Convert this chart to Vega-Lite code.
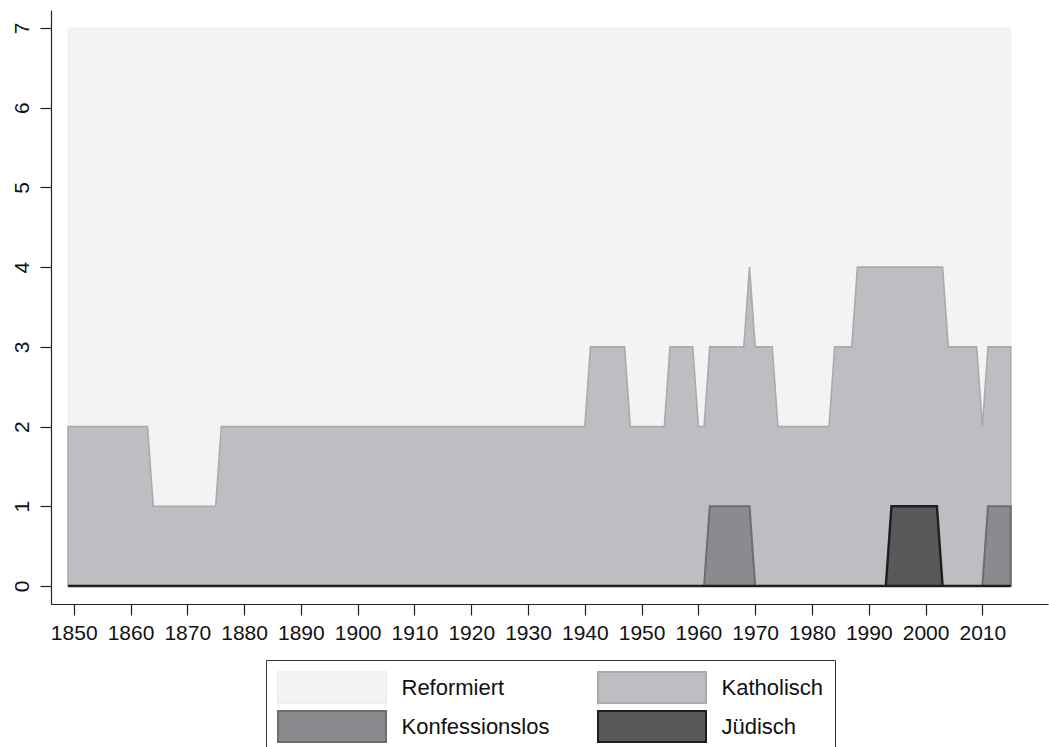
{
  "$schema": "https://vega.github.io/schema/vega-lite/v6.json",
  "width": 997,
  "height": 594,
  "autosize": {"type": "none"},
  "padding": {"left": 51, "top": 10, "right": 1, "bottom": 143},
  "background": "white",
  "config": {
    "view": {"stroke": null},
    "axis": {
      "grid": false,
      "domainColor": "#222222",
      "domainWidth": 1.2,
      "tickColor": "#222222",
      "tickWidth": 1.2,
      "tickSize": 11,
      "labelFont": "Liberation Sans",
      "labelFontSize": 21,
      "labelColor": "#111111",
      "title": null
    },
    "legend": {
      "labelFont": "Liberation Sans",
      "labelFontSize": 22,
      "labelColor": "#111111"
    }
  },
  "data": {
    "values": [
      {"Jahr":1849,"Reformiert":7,"Katholisch":2,"Konfessionslos":0,"Jüdisch":0},
      {"Jahr":1850,"Reformiert":7,"Katholisch":2,"Konfessionslos":0,"Jüdisch":0},
      {"Jahr":1851,"Reformiert":7,"Katholisch":2,"Konfessionslos":0,"Jüdisch":0},
      {"Jahr":1852,"Reformiert":7,"Katholisch":2,"Konfessionslos":0,"Jüdisch":0},
      {"Jahr":1853,"Reformiert":7,"Katholisch":2,"Konfessionslos":0,"Jüdisch":0},
      {"Jahr":1854,"Reformiert":7,"Katholisch":2,"Konfessionslos":0,"Jüdisch":0},
      {"Jahr":1855,"Reformiert":7,"Katholisch":2,"Konfessionslos":0,"Jüdisch":0},
      {"Jahr":1856,"Reformiert":7,"Katholisch":2,"Konfessionslos":0,"Jüdisch":0},
      {"Jahr":1857,"Reformiert":7,"Katholisch":2,"Konfessionslos":0,"Jüdisch":0},
      {"Jahr":1858,"Reformiert":7,"Katholisch":2,"Konfessionslos":0,"Jüdisch":0},
      {"Jahr":1859,"Reformiert":7,"Katholisch":2,"Konfessionslos":0,"Jüdisch":0},
      {"Jahr":1860,"Reformiert":7,"Katholisch":2,"Konfessionslos":0,"Jüdisch":0},
      {"Jahr":1861,"Reformiert":7,"Katholisch":2,"Konfessionslos":0,"Jüdisch":0},
      {"Jahr":1862,"Reformiert":7,"Katholisch":2,"Konfessionslos":0,"Jüdisch":0},
      {"Jahr":1863,"Reformiert":7,"Katholisch":2,"Konfessionslos":0,"Jüdisch":0},
      {"Jahr":1864,"Reformiert":7,"Katholisch":1,"Konfessionslos":0,"Jüdisch":0},
      {"Jahr":1865,"Reformiert":7,"Katholisch":1,"Konfessionslos":0,"Jüdisch":0},
      {"Jahr":1866,"Reformiert":7,"Katholisch":1,"Konfessionslos":0,"Jüdisch":0},
      {"Jahr":1867,"Reformiert":7,"Katholisch":1,"Konfessionslos":0,"Jüdisch":0},
      {"Jahr":1868,"Reformiert":7,"Katholisch":1,"Konfessionslos":0,"Jüdisch":0},
      {"Jahr":1869,"Reformiert":7,"Katholisch":1,"Konfessionslos":0,"Jüdisch":0},
      {"Jahr":1870,"Reformiert":7,"Katholisch":1,"Konfessionslos":0,"Jüdisch":0},
      {"Jahr":1871,"Reformiert":7,"Katholisch":1,"Konfessionslos":0,"Jüdisch":0},
      {"Jahr":1872,"Reformiert":7,"Katholisch":1,"Konfessionslos":0,"Jüdisch":0},
      {"Jahr":1873,"Reformiert":7,"Katholisch":1,"Konfessionslos":0,"Jüdisch":0},
      {"Jahr":1874,"Reformiert":7,"Katholisch":1,"Konfessionslos":0,"Jüdisch":0},
      {"Jahr":1875,"Reformiert":7,"Katholisch":1,"Konfessionslos":0,"Jüdisch":0},
      {"Jahr":1876,"Reformiert":7,"Katholisch":2,"Konfessionslos":0,"Jüdisch":0},
      {"Jahr":1877,"Reformiert":7,"Katholisch":2,"Konfessionslos":0,"Jüdisch":0},
      {"Jahr":1878,"Reformiert":7,"Katholisch":2,"Konfessionslos":0,"Jüdisch":0},
      {"Jahr":1879,"Reformiert":7,"Katholisch":2,"Konfessionslos":0,"Jüdisch":0},
      {"Jahr":1880,"Reformiert":7,"Katholisch":2,"Konfessionslos":0,"Jüdisch":0},
      {"Jahr":1881,"Reformiert":7,"Katholisch":2,"Konfessionslos":0,"Jüdisch":0},
      {"Jahr":1882,"Reformiert":7,"Katholisch":2,"Konfessionslos":0,"Jüdisch":0},
      {"Jahr":1883,"Reformiert":7,"Katholisch":2,"Konfessionslos":0,"Jüdisch":0},
      {"Jahr":1884,"Reformiert":7,"Katholisch":2,"Konfessionslos":0,"Jüdisch":0},
      {"Jahr":1885,"Reformiert":7,"Katholisch":2,"Konfessionslos":0,"Jüdisch":0},
      {"Jahr":1886,"Reformiert":7,"Katholisch":2,"Konfessionslos":0,"Jüdisch":0},
      {"Jahr":1887,"Reformiert":7,"Katholisch":2,"Konfessionslos":0,"Jüdisch":0},
      {"Jahr":1888,"Reformiert":7,"Katholisch":2,"Konfessionslos":0,"Jüdisch":0},
      {"Jahr":1889,"Reformiert":7,"Katholisch":2,"Konfessionslos":0,"Jüdisch":0},
      {"Jahr":1890,"Reformiert":7,"Katholisch":2,"Konfessionslos":0,"Jüdisch":0},
      {"Jahr":1891,"Reformiert":7,"Katholisch":2,"Konfessionslos":0,"Jüdisch":0},
      {"Jahr":1892,"Reformiert":7,"Katholisch":2,"Konfessionslos":0,"Jüdisch":0},
      {"Jahr":1893,"Reformiert":7,"Katholisch":2,"Konfessionslos":0,"Jüdisch":0},
      {"Jahr":1894,"Reformiert":7,"Katholisch":2,"Konfessionslos":0,"Jüdisch":0},
      {"Jahr":1895,"Reformiert":7,"Katholisch":2,"Konfessionslos":0,"Jüdisch":0},
      {"Jahr":1896,"Reformiert":7,"Katholisch":2,"Konfessionslos":0,"Jüdisch":0},
      {"Jahr":1897,"Reformiert":7,"Katholisch":2,"Konfessionslos":0,"Jüdisch":0},
      {"Jahr":1898,"Reformiert":7,"Katholisch":2,"Konfessionslos":0,"Jüdisch":0},
      {"Jahr":1899,"Reformiert":7,"Katholisch":2,"Konfessionslos":0,"Jüdisch":0},
      {"Jahr":1900,"Reformiert":7,"Katholisch":2,"Konfessionslos":0,"Jüdisch":0},
      {"Jahr":1901,"Reformiert":7,"Katholisch":2,"Konfessionslos":0,"Jüdisch":0},
      {"Jahr":1902,"Reformiert":7,"Katholisch":2,"Konfessionslos":0,"Jüdisch":0},
      {"Jahr":1903,"Reformiert":7,"Katholisch":2,"Konfessionslos":0,"Jüdisch":0},
      {"Jahr":1904,"Reformiert":7,"Katholisch":2,"Konfessionslos":0,"Jüdisch":0},
      {"Jahr":1905,"Reformiert":7,"Katholisch":2,"Konfessionslos":0,"Jüdisch":0},
      {"Jahr":1906,"Reformiert":7,"Katholisch":2,"Konfessionslos":0,"Jüdisch":0},
      {"Jahr":1907,"Reformiert":7,"Katholisch":2,"Konfessionslos":0,"Jüdisch":0},
      {"Jahr":1908,"Reformiert":7,"Katholisch":2,"Konfessionslos":0,"Jüdisch":0},
      {"Jahr":1909,"Reformiert":7,"Katholisch":2,"Konfessionslos":0,"Jüdisch":0},
      {"Jahr":1910,"Reformiert":7,"Katholisch":2,"Konfessionslos":0,"Jüdisch":0},
      {"Jahr":1911,"Reformiert":7,"Katholisch":2,"Konfessionslos":0,"Jüdisch":0},
      {"Jahr":1912,"Reformiert":7,"Katholisch":2,"Konfessionslos":0,"Jüdisch":0},
      {"Jahr":1913,"Reformiert":7,"Katholisch":2,"Konfessionslos":0,"Jüdisch":0},
      {"Jahr":1914,"Reformiert":7,"Katholisch":2,"Konfessionslos":0,"Jüdisch":0},
      {"Jahr":1915,"Reformiert":7,"Katholisch":2,"Konfessionslos":0,"Jüdisch":0},
      {"Jahr":1916,"Reformiert":7,"Katholisch":2,"Konfessionslos":0,"Jüdisch":0},
      {"Jahr":1917,"Reformiert":7,"Katholisch":2,"Konfessionslos":0,"Jüdisch":0},
      {"Jahr":1918,"Reformiert":7,"Katholisch":2,"Konfessionslos":0,"Jüdisch":0},
      {"Jahr":1919,"Reformiert":7,"Katholisch":2,"Konfessionslos":0,"Jüdisch":0},
      {"Jahr":1920,"Reformiert":7,"Katholisch":2,"Konfessionslos":0,"Jüdisch":0},
      {"Jahr":1921,"Reformiert":7,"Katholisch":2,"Konfessionslos":0,"Jüdisch":0},
      {"Jahr":1922,"Reformiert":7,"Katholisch":2,"Konfessionslos":0,"Jüdisch":0},
      {"Jahr":1923,"Reformiert":7,"Katholisch":2,"Konfessionslos":0,"Jüdisch":0},
      {"Jahr":1924,"Reformiert":7,"Katholisch":2,"Konfessionslos":0,"Jüdisch":0},
      {"Jahr":1925,"Reformiert":7,"Katholisch":2,"Konfessionslos":0,"Jüdisch":0},
      {"Jahr":1926,"Reformiert":7,"Katholisch":2,"Konfessionslos":0,"Jüdisch":0},
      {"Jahr":1927,"Reformiert":7,"Katholisch":2,"Konfessionslos":0,"Jüdisch":0},
      {"Jahr":1928,"Reformiert":7,"Katholisch":2,"Konfessionslos":0,"Jüdisch":0},
      {"Jahr":1929,"Reformiert":7,"Katholisch":2,"Konfessionslos":0,"Jüdisch":0},
      {"Jahr":1930,"Reformiert":7,"Katholisch":2,"Konfessionslos":0,"Jüdisch":0},
      {"Jahr":1931,"Reformiert":7,"Katholisch":2,"Konfessionslos":0,"Jüdisch":0},
      {"Jahr":1932,"Reformiert":7,"Katholisch":2,"Konfessionslos":0,"Jüdisch":0},
      {"Jahr":1933,"Reformiert":7,"Katholisch":2,"Konfessionslos":0,"Jüdisch":0},
      {"Jahr":1934,"Reformiert":7,"Katholisch":2,"Konfessionslos":0,"Jüdisch":0},
      {"Jahr":1935,"Reformiert":7,"Katholisch":2,"Konfessionslos":0,"Jüdisch":0},
      {"Jahr":1936,"Reformiert":7,"Katholisch":2,"Konfessionslos":0,"Jüdisch":0},
      {"Jahr":1937,"Reformiert":7,"Katholisch":2,"Konfessionslos":0,"Jüdisch":0},
      {"Jahr":1938,"Reformiert":7,"Katholisch":2,"Konfessionslos":0,"Jüdisch":0},
      {"Jahr":1939,"Reformiert":7,"Katholisch":2,"Konfessionslos":0,"Jüdisch":0},
      {"Jahr":1940,"Reformiert":7,"Katholisch":2,"Konfessionslos":0,"Jüdisch":0},
      {"Jahr":1941,"Reformiert":7,"Katholisch":3,"Konfessionslos":0,"Jüdisch":0},
      {"Jahr":1942,"Reformiert":7,"Katholisch":3,"Konfessionslos":0,"Jüdisch":0},
      {"Jahr":1943,"Reformiert":7,"Katholisch":3,"Konfessionslos":0,"Jüdisch":0},
      {"Jahr":1944,"Reformiert":7,"Katholisch":3,"Konfessionslos":0,"Jüdisch":0},
      {"Jahr":1945,"Reformiert":7,"Katholisch":3,"Konfessionslos":0,"Jüdisch":0},
      {"Jahr":1946,"Reformiert":7,"Katholisch":3,"Konfessionslos":0,"Jüdisch":0},
      {"Jahr":1947,"Reformiert":7,"Katholisch":3,"Konfessionslos":0,"Jüdisch":0},
      {"Jahr":1948,"Reformiert":7,"Katholisch":2,"Konfessionslos":0,"Jüdisch":0},
      {"Jahr":1949,"Reformiert":7,"Katholisch":2,"Konfessionslos":0,"Jüdisch":0},
      {"Jahr":1950,"Reformiert":7,"Katholisch":2,"Konfessionslos":0,"Jüdisch":0},
      {"Jahr":1951,"Reformiert":7,"Katholisch":2,"Konfessionslos":0,"Jüdisch":0},
      {"Jahr":1952,"Reformiert":7,"Katholisch":2,"Konfessionslos":0,"Jüdisch":0},
      {"Jahr":1953,"Reformiert":7,"Katholisch":2,"Konfessionslos":0,"Jüdisch":0},
      {"Jahr":1954,"Reformiert":7,"Katholisch":2,"Konfessionslos":0,"Jüdisch":0},
      {"Jahr":1955,"Reformiert":7,"Katholisch":3,"Konfessionslos":0,"Jüdisch":0},
      {"Jahr":1956,"Reformiert":7,"Katholisch":3,"Konfessionslos":0,"Jüdisch":0},
      {"Jahr":1957,"Reformiert":7,"Katholisch":3,"Konfessionslos":0,"Jüdisch":0},
      {"Jahr":1958,"Reformiert":7,"Katholisch":3,"Konfessionslos":0,"Jüdisch":0},
      {"Jahr":1959,"Reformiert":7,"Katholisch":3,"Konfessionslos":0,"Jüdisch":0},
      {"Jahr":1960,"Reformiert":7,"Katholisch":2,"Konfessionslos":0,"Jüdisch":0},
      {"Jahr":1961,"Reformiert":7,"Katholisch":2,"Konfessionslos":0,"Jüdisch":0},
      {"Jahr":1962,"Reformiert":7,"Katholisch":3,"Konfessionslos":1,"Jüdisch":0},
      {"Jahr":1963,"Reformiert":7,"Katholisch":3,"Konfessionslos":1,"Jüdisch":0},
      {"Jahr":1964,"Reformiert":7,"Katholisch":3,"Konfessionslos":1,"Jüdisch":0},
      {"Jahr":1965,"Reformiert":7,"Katholisch":3,"Konfessionslos":1,"Jüdisch":0},
      {"Jahr":1966,"Reformiert":7,"Katholisch":3,"Konfessionslos":1,"Jüdisch":0},
      {"Jahr":1967,"Reformiert":7,"Katholisch":3,"Konfessionslos":1,"Jüdisch":0},
      {"Jahr":1968,"Reformiert":7,"Katholisch":3,"Konfessionslos":1,"Jüdisch":0},
      {"Jahr":1969,"Reformiert":7,"Katholisch":4,"Konfessionslos":1,"Jüdisch":0},
      {"Jahr":1970,"Reformiert":7,"Katholisch":3,"Konfessionslos":0,"Jüdisch":0},
      {"Jahr":1971,"Reformiert":7,"Katholisch":3,"Konfessionslos":0,"Jüdisch":0},
      {"Jahr":1972,"Reformiert":7,"Katholisch":3,"Konfessionslos":0,"Jüdisch":0},
      {"Jahr":1973,"Reformiert":7,"Katholisch":3,"Konfessionslos":0,"Jüdisch":0},
      {"Jahr":1974,"Reformiert":7,"Katholisch":2,"Konfessionslos":0,"Jüdisch":0},
      {"Jahr":1975,"Reformiert":7,"Katholisch":2,"Konfessionslos":0,"Jüdisch":0},
      {"Jahr":1976,"Reformiert":7,"Katholisch":2,"Konfessionslos":0,"Jüdisch":0},
      {"Jahr":1977,"Reformiert":7,"Katholisch":2,"Konfessionslos":0,"Jüdisch":0},
      {"Jahr":1978,"Reformiert":7,"Katholisch":2,"Konfessionslos":0,"Jüdisch":0},
      {"Jahr":1979,"Reformiert":7,"Katholisch":2,"Konfessionslos":0,"Jüdisch":0},
      {"Jahr":1980,"Reformiert":7,"Katholisch":2,"Konfessionslos":0,"Jüdisch":0},
      {"Jahr":1981,"Reformiert":7,"Katholisch":2,"Konfessionslos":0,"Jüdisch":0},
      {"Jahr":1982,"Reformiert":7,"Katholisch":2,"Konfessionslos":0,"Jüdisch":0},
      {"Jahr":1983,"Reformiert":7,"Katholisch":2,"Konfessionslos":0,"Jüdisch":0},
      {"Jahr":1984,"Reformiert":7,"Katholisch":3,"Konfessionslos":0,"Jüdisch":0},
      {"Jahr":1985,"Reformiert":7,"Katholisch":3,"Konfessionslos":0,"Jüdisch":0},
      {"Jahr":1986,"Reformiert":7,"Katholisch":3,"Konfessionslos":0,"Jüdisch":0},
      {"Jahr":1987,"Reformiert":7,"Katholisch":3,"Konfessionslos":0,"Jüdisch":0},
      {"Jahr":1988,"Reformiert":7,"Katholisch":4,"Konfessionslos":0,"Jüdisch":0},
      {"Jahr":1989,"Reformiert":7,"Katholisch":4,"Konfessionslos":0,"Jüdisch":0},
      {"Jahr":1990,"Reformiert":7,"Katholisch":4,"Konfessionslos":0,"Jüdisch":0},
      {"Jahr":1991,"Reformiert":7,"Katholisch":4,"Konfessionslos":0,"Jüdisch":0},
      {"Jahr":1992,"Reformiert":7,"Katholisch":4,"Konfessionslos":0,"Jüdisch":0},
      {"Jahr":1993,"Reformiert":7,"Katholisch":4,"Konfessionslos":0,"Jüdisch":0},
      {"Jahr":1994,"Reformiert":7,"Katholisch":4,"Konfessionslos":0,"Jüdisch":1},
      {"Jahr":1995,"Reformiert":7,"Katholisch":4,"Konfessionslos":0,"Jüdisch":1},
      {"Jahr":1996,"Reformiert":7,"Katholisch":4,"Konfessionslos":0,"Jüdisch":1},
      {"Jahr":1997,"Reformiert":7,"Katholisch":4,"Konfessionslos":0,"Jüdisch":1},
      {"Jahr":1998,"Reformiert":7,"Katholisch":4,"Konfessionslos":0,"Jüdisch":1},
      {"Jahr":1999,"Reformiert":7,"Katholisch":4,"Konfessionslos":0,"Jüdisch":1},
      {"Jahr":2000,"Reformiert":7,"Katholisch":4,"Konfessionslos":0,"Jüdisch":1},
      {"Jahr":2001,"Reformiert":7,"Katholisch":4,"Konfessionslos":0,"Jüdisch":1},
      {"Jahr":2002,"Reformiert":7,"Katholisch":4,"Konfessionslos":0,"Jüdisch":1},
      {"Jahr":2003,"Reformiert":7,"Katholisch":4,"Konfessionslos":0,"Jüdisch":0},
      {"Jahr":2004,"Reformiert":7,"Katholisch":3,"Konfessionslos":0,"Jüdisch":0},
      {"Jahr":2005,"Reformiert":7,"Katholisch":3,"Konfessionslos":0,"Jüdisch":0},
      {"Jahr":2006,"Reformiert":7,"Katholisch":3,"Konfessionslos":0,"Jüdisch":0},
      {"Jahr":2007,"Reformiert":7,"Katholisch":3,"Konfessionslos":0,"Jüdisch":0},
      {"Jahr":2008,"Reformiert":7,"Katholisch":3,"Konfessionslos":0,"Jüdisch":0},
      {"Jahr":2009,"Reformiert":7,"Katholisch":3,"Konfessionslos":0,"Jüdisch":0},
      {"Jahr":2010,"Reformiert":7,"Katholisch":2,"Konfessionslos":0,"Jüdisch":0},
      {"Jahr":2011,"Reformiert":7,"Katholisch":3,"Konfessionslos":1,"Jüdisch":0},
      {"Jahr":2012,"Reformiert":7,"Katholisch":3,"Konfessionslos":1,"Jüdisch":0},
      {"Jahr":2013,"Reformiert":7,"Katholisch":3,"Konfessionslos":1,"Jüdisch":0},
      {"Jahr":2014,"Reformiert":7,"Katholisch":3,"Konfessionslos":1,"Jüdisch":0},
      {"Jahr":2015,"Reformiert":7,"Katholisch":3,"Konfessionslos":1,"Jüdisch":0}
    ]
  },
  "transform": [
    {"fold": ["Reformiert", "Katholisch", "Konfessionslos", "Jüdisch"], "as": ["Konfession", "Anzahl"]}
  ],
  "encoding": {
    "x": {
      "field": "Jahr",
      "type": "quantitative",
      "scale": {"domain": [1846, 2021.56], "nice": false, "zero": false},
      "axis": {
        "values": [1850, 1860, 1870, 1880, 1890, 1900, 1910, 1920, 1930, 1940, 1950, 1960, 1970, 1980, 1990, 2000, 2010],
        "format": "d",
        "labelPadding": 7,
        "labelOverlap": false,
        "labelFlush": false
      }
    },
    "y": {
      "field": "Anzahl",
      "type": "quantitative",
      "scale": {"domain": [-0.226, 7.226], "nice": false, "zero": false},
      "axis": {
        "values": [0, 1, 2, 3, 4, 5, 6, 7],
        "format": "d",
        "labelAngle": 270,
        "labelAlign": "center",
        "labelBaseline": "bottom",
        "labelPadding": 8
      }
    },
    "y2": {"datum": 0},
    "fill": {
      "field": "Konfession",
      "type": "nominal",
      "scale": {
        "domain": ["Reformiert", "Katholisch", "Konfessionslos", "Jüdisch"],
        "range": ["#f2f3f2", "#bdbec1", "#8a8b8e", "#58595b"]
      },
      "legend": {
        "title": null,
        "orient": "none",
        "legendX": 215,
        "legendY": 650,
        "direction": "horizontal",
        "columns": 2,
        "symbolType": "M-3.484,-1H3.484V1H-3.484Z",
        "symbolSize": 961,
        "symbolOffset": 38.5,
        "symbolStrokeWidth": 2,
        "symbolOpacity": 1,
        "labelOffset": 53,
        "columnPadding": 43,
        "rowPadding": 0,
        "padding": 11,
        "strokeColor": "#333333",
        "fillColor": "white"
      }
    },
    "stroke": {
      "field": "Konfession",
      "type": "nominal",
      "scale": {
        "domain": ["Reformiert", "Katholisch", "Konfessionslos", "Jüdisch"],
        "range": ["#eef0ef", "#a9aaad", "#6c6d70", "#1e1e1e"]
      },
      "legend": {
        "title": null,
        "orient": "none",
        "legendX": 215,
        "legendY": 650,
        "direction": "horizontal",
        "columns": 2,
        "symbolType": "M-3.484,-1H3.484V1H-3.484Z",
        "symbolSize": 961,
        "symbolOffset": 38.5,
        "symbolStrokeWidth": 2,
        "symbolOpacity": 1,
        "labelOffset": 53,
        "columnPadding": 43,
        "rowPadding": 0,
        "padding": 11,
        "strokeColor": "#333333",
        "fillColor": "white"
      }
    }
  },
  "layer": [
    {
      "transform": [{"filter": "datum.Konfession === 'Reformiert'"}],
      "mark": {"type": "area", "opacity": 1, "strokeWidth": 1}
    },
    {
      "transform": [{"filter": "datum.Konfession === 'Katholisch'"}],
      "mark": {"type": "area", "opacity": 1, "strokeWidth": 1.6}
    },
    {
      "transform": [{"filter": "datum.Konfession === 'Konfessionslos'"}],
      "mark": {"type": "area", "opacity": 1, "strokeWidth": 2}
    },
    {
      "transform": [{"filter": "datum.Konfession === 'Jüdisch'"}],
      "mark": {"type": "area", "opacity": 1, "strokeWidth": 2.4}
    }
  ]
}
